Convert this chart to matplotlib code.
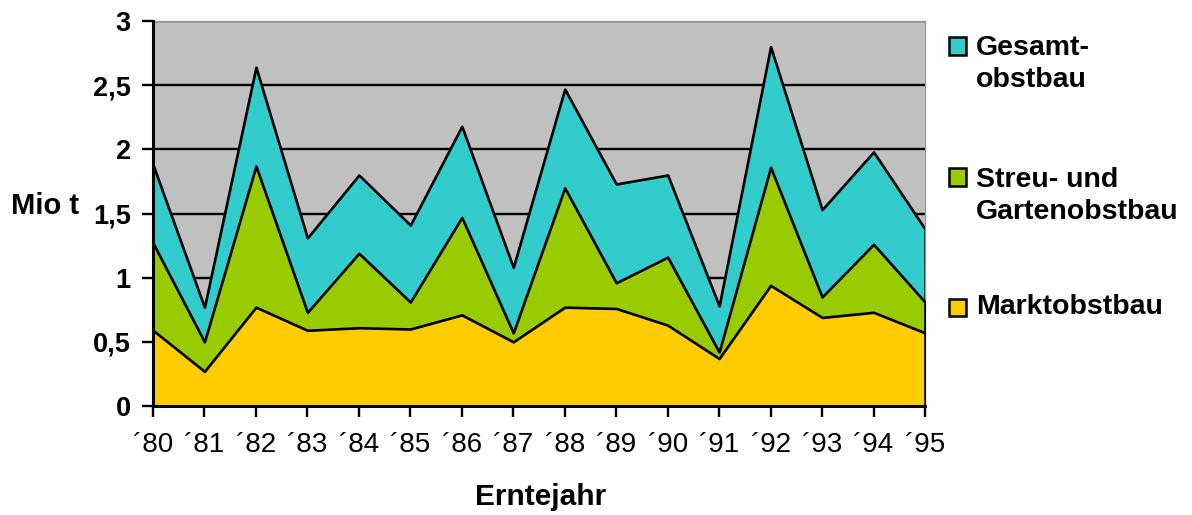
import matplotlib
matplotlib.use("Agg")
import matplotlib.pyplot as plt
from matplotlib.patches import Rectangle

plt.rcParams['font.family'] = ['Liberation Sans', 'DejaVu Sans']

# Erntemengen in Mio t, 1980-1995
jahre = ['´80', '´81', '´82', '´83', '´84', '´85', '´86', '´87',
         '´88', '´89', '´90', '´91', '´92', '´93', '´94', '´95']
gesamt = [1.88, 0.77, 2.64, 1.31, 1.80, 1.41, 2.18, 1.08,
          2.47, 1.73, 1.80, 0.78, 2.80, 1.53, 1.98, 1.38]
streu = [1.27, 0.50, 1.87, 0.73, 1.19, 0.81, 1.47, 0.57,
         1.70, 0.96, 1.16, 0.42, 1.86, 0.85, 1.26, 0.81]
markt = [0.59, 0.27, 0.77, 0.59, 0.61, 0.60, 0.71, 0.50,
         0.77, 0.76, 0.63, 0.37, 0.94, 0.69, 0.73, 0.57]

y_ticks = [0, 0.5, 1, 1.5, 2, 2.5, 3]
y_labels = ['0', '0,5', '1', '1,5', '2', '2,5', '3']

serien = [
    ('Gesamt-\nobstbau', gesamt, '#33CCCC'),
    ('Streu- und\nGartenobstbau', streu, '#99CC00'),
    ('Marktobstbau', markt, '#FFCC00'),
]

W, H = 1192, 515
fig = plt.figure(figsize=(W / 100, H / 100), dpi=100)
ax = fig.add_axes([153 / W, 1 - 406 / H, (925 - 153) / W, (406 - 21) / H])
ax.set_facecolor('#C0C0C0')

x = list(range(len(jahre)))
for i, (name, werte, farbe) in enumerate(serien):
    ax.fill_between(x, 0, werte, facecolor=farbe, edgecolor='black',
                    linewidth=1.9, zorder=2 + i)

ax.set_xlim(0, len(jahre) - 1)
ax.set_ylim(0, 3)
ax.set_axisbelow(True)
ax.yaxis.grid(True, color='black', linewidth=1.7)

ax.set_xticks(x)
ax.set_xticklabels(jahre, fontsize=20)
ax.set_yticks(y_ticks)
ax.set_yticklabels(y_labels, fontsize=19.5, fontweight='bold')
ax.tick_params(axis='both', direction='out', length=8, width=1.7, color='black')
ax.tick_params(axis='x', pad=11)
ax.tick_params(axis='y', pad=8)

for s in ['left', 'bottom']:
    ax.spines[s].set_linewidth(2.2)
    ax.spines[s].set_color('black')
    ax.spines[s].set_zorder(10)
for s in ['top', 'right']:
    ax.spines[s].set_linewidth(1)
    ax.spines[s].set_color('#9a9a9a')

fig.text(11 / W, 1 - 206 / H, 'Mio t', fontsize=21, fontweight='bold',
         ha='left', va='center')
fig.text(541 / W, 1 - 497 / H, 'Erntejahr', fontsize=21.5, fontweight='bold',
         ha='center', va='center')

# Legende rechts
legend_y = [(46, 64), (177, 196), (307, 307)]
for (name, werte, farbe), (y_box, y_txt) in zip(serien, legend_y):
    fig.add_artist(Rectangle((949 / W, 1 - (y_box + 8.5) / H), 17 / W, 17 / H,
                             facecolor=farbe, edgecolor='black', linewidth=1.8,
                             transform=fig.transFigure))
    fig.text(976 / W, 1 - y_txt / H, name, fontsize=20.5, fontweight='bold',
             ha='left', va='center', linespacing=1.32)

fig.savefig('out.png', dpi=100)
